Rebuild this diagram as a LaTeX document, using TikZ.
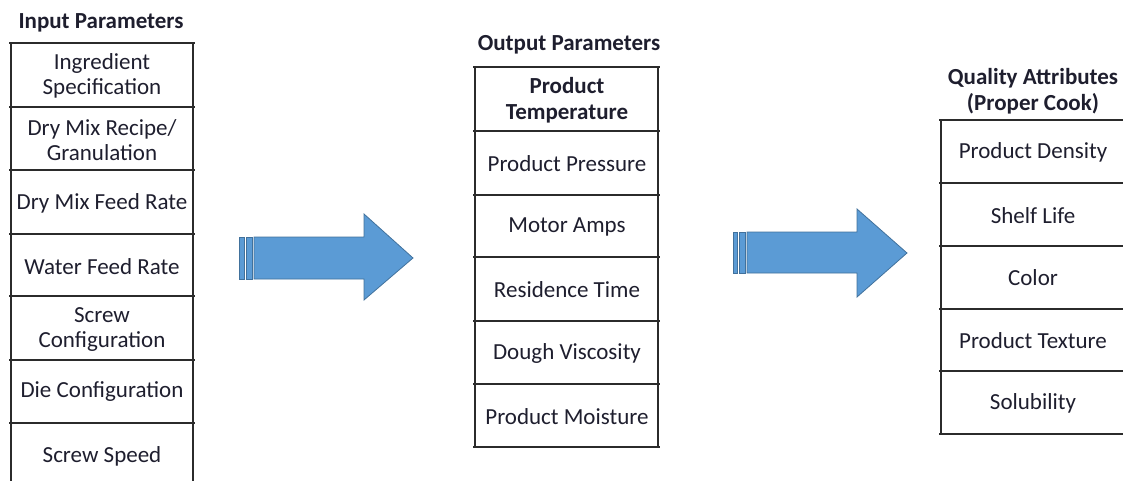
\documentclass[tikz,border=0pt]{standalone}
\usepackage{fontspec}
\setmainfont{Carlito}
\definecolor{txt}{HTML}{1E1E2E}
\definecolor{rule}{HTML}{2B2B2B}
\definecolor{arrowfill}{HTML}{5B9BD5}
\definecolor{arrowedge}{HTML}{41719C}
\begin{document}
\begin{tikzpicture}[x=1pt,y=-1pt,
  cell/.style={text=txt,align=center,font=\fontsize{23}{25}\selectfont,inner sep=0pt},
  head/.style={text=txt,align=center,font=\fontsize{23}{26}\selectfont\bfseries,inner sep=0pt},
  gridline/.style={draw=rule,line width=1.5pt},
  bigarrow/.style={fill=arrowfill,draw=arrowedge,line width=0.8pt,line join=miter},
  stripe/.style={fill=arrowfill,draw=arrowedge,line width=0.8pt}]
\useasboundingbox (0,0) rectangle (1123,481);

% ---------- Input table ----------
\node[head] (inhead) at (101,23) {Input Parameters};
\draw[gridline] (11,43) -- (11,481);
\draw[gridline] (193,43) -- (193,481);
\foreach \yy in {43,107,170,234,296,360,423}{
  \draw[gridline] (9,\yy) -- (195,\yy);
}
\node[cell] (in1) at (102,76) {Ingredient\\Specification};
\node[cell] (in2) at (102,140) {Dry Mix Recipe/\\Granulation};
\node[cell] (in3) at (102,203) {Dry Mix Feed Rate};
\node[cell] (in4) at (102,267) {Water Feed Rate};
\node[cell] (in5) at (102,330) {Screw\\Configuration};
\node[cell] (in6) at (102,392) {Die Configuration};
\node[cell] (in7) at (102,456) {Screw Speed};

% ---------- Output table ----------
\node[head] (outhead) at (569,45) {Output Parameters};
\draw[gridline] (475,67) -- (475,447);
\draw[gridline] (658,67) -- (658,447);
\foreach \yy in {67,131,195,257,321,384,447}{
  \draw[gridline] (473,\yy) -- (660,\yy);
}
\node[head] (out1) at (567,100) {Product\\Temperature};
\node[cell] (out2) at (567,164) {Product Pressure};
\node[cell] (out3) at (567,227) {Motor Amps};
\node[cell] (out4) at (567,290) {Residence Time};
\node[cell] (out5) at (567,353) {Dough Viscosity};
\node[cell] (out6) at (567,417) {Product Moisture};

% ---------- Quality table ----------
\node[head] (qhead) at (1033,91) {Quality Attributes\\(Proper Cook)};
\draw[gridline] (941,120) -- (941,434);
\foreach \yy in {120,183,246,309,371,434}{
  \draw[gridline] (939,\yy) -- (1125,\yy);
}
\node[cell] (q1) at (1033,152) {Product Density};
\node[cell] (q2) at (1033,216) {Shelf Life};
\node[cell] (q3) at (1033,278) {Color};
\node[cell] (q4) at (1033,341) {Product Texture};
\node[cell] (q5) at (1033,403) {Solubility};

% ---------- Arrow 1 ----------
\draw[stripe] (239,237) rectangle (244,279);
\draw[stripe] (246,237) rectangle (252,279);
\draw[bigarrow] (254,237) -- (364,237) -- (364,214) -- (413,258)
  -- (364,300) -- (364,279) -- (254,279) -- cycle;

% ---------- Arrow 2 ----------
\draw[stripe] (733,232) rectangle (737,273);
\draw[stripe] (739,232) rectangle (745,273);
\draw[bigarrow] (747,232) -- (857,232) -- (857,209) -- (907,253)
  -- (857,297) -- (857,273) -- (747,273) -- cycle;
\end{tikzpicture}
\end{document}
